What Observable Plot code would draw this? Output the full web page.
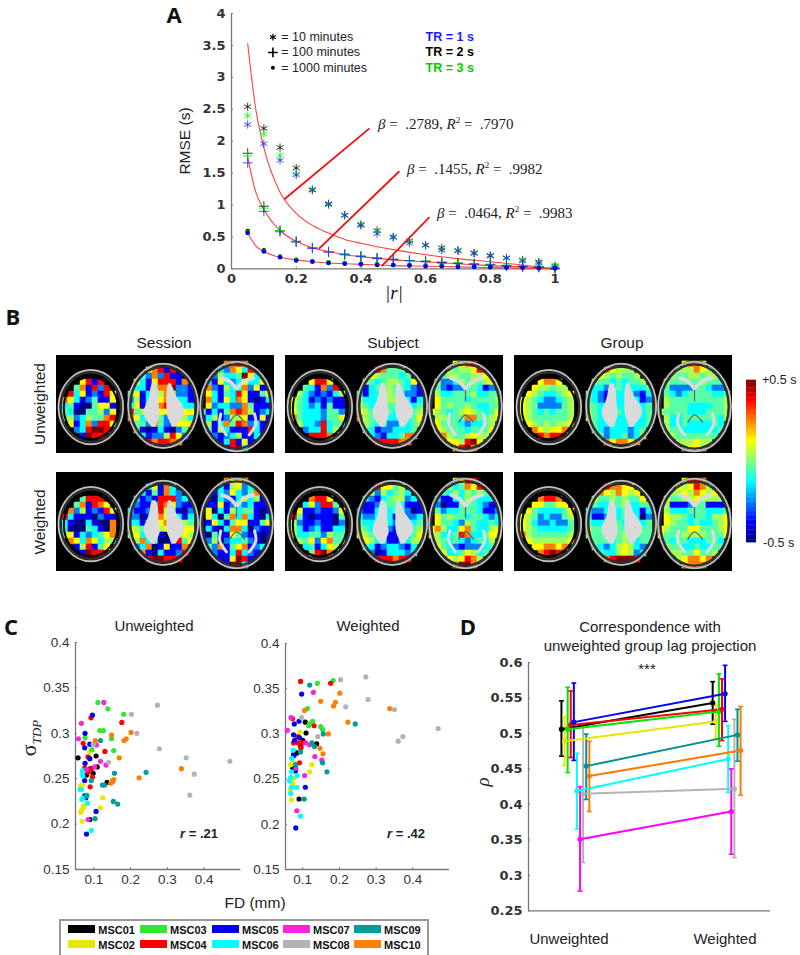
<!DOCTYPE html>
<html><head><meta charset="utf-8">
<script src="https://cdn.jsdelivr.net/npm/d3@7"></script>
<script src="https://cdn.jsdelivr.net/npm/@observablehq/plot@0.6"></script>
<style>
html,body{margin:0;padding:0;background:#fff}
#root{position:relative;width:800px;height:955px;overflow:hidden;font-family:"Liberation Sans",sans-serif;color:#222}
.lab{position:absolute;white-space:nowrap;line-height:1}
</style></head><body><div id="root"></div>
<script>
// ---------- Panel A data ----------
const absR=[.05,.1,.15,.2,.25,.3,.35,.4,.45,.5,.55,.6,.65,.7,.75,.8,.85,.9,.95,1];
const rmse10TR2=[2.54,2.2,1.9,1.58,1.24,1.02,.84,.69,.6,.5,.44,.37,.33,.29,.25,.21,.17,.14,.11,.04];
const rmse10TR3=[2.4,2.11,1.78,1.49,1.25,1,.84,.7,.59,.5,.43,.37,.3,.29,.24,.2,.17,.14,.1,.06];
const rmse10TR1=[2.26,1.96,1.7,1.47,1.23,1.01,.84,.68,.55,.49,.4,.37,.29,.28,.24,.2,.17,.12,.09,.02];
const rmse100TR2=[1.81,.98,.6,.43,.33,.27,.23,.2,.17,.15,.13,.12,.1,.09,.08,.07,.05,.04,.03,.01];
const rmse100TR3=[1.77,.95,.6,.43,.33,.27,.22,.19,.17,.15,.13,.12,.11,.09,.08,.07,.06,.05,.04,.03];
const rmse100TR1=[1.66,.9,.58,.42,.32,.26,.22,.19,.16,.14,.13,.11,.09,.08,.07,.06,.04,.03,.02,0];
const rmse1000TR2=[.59,.29,.19,.14,.12,.1,.09,.08,.07,.06,.06,.05,.05,.04,.04,.03,.03,.02,.02,.01];
const rmse1000TR3=[.57,.28,.19,.14,.12,.1,.09,.08,.07,.06,.06,.05,.05,.04,.04,.04,.03,.03,.03,.05];
const rmse1000TR1=[.56,.27,.18,.13,.11,.09,.08,.07,.06,.06,.05,.04,.04,.03,.03,.03,.02,.02,.01,.01];
const fitR=[.05,.075,.1,.15,.2,.25,.3,.35,.4,.5,.6,.7,.8,.9,1];
const fit10=[3.53,2.5,1.9,1.2,.87,.68,.56,.46,.4,.3,.22,.16,.11,.06,0];
const fit100=[1.75,1.2,.93,.6,.43,.33,.27,.22,.19,.14,.11,.08,.05,.03,0];
const fit1000=[.56,.36,.27,.18,.14,.11,.09,.08,.07,.05,.04,.03,.02,.01,0];
const leaders=[[.1635,1.09,.4265,2.2],[.27,.313,.519,1.528],[.464,.04,.612,.81]];
const fitBeta=[".2789",".1455",".0464"];
const fitR2=[".7970",".9982",".9983"];
const durationNotes=["= 10 minutes","= 100 minutes","= 1000 minutes"];
const trNotes=["TR = 1 s","TR = 2 s","TR = 3 s"];
const trColors=["#1a1aff","#000","#00cc00"];
const noteY=[3.63,3.39,3.15];

// ---------- Panel B data: digit 0-9 indexes lagLevels, one row per 18 units ----------
const lagLevels=[-.5,-.375,-.25,-.125,-.04,.04,.125,.25,.375,.5];
const sessionUnweighted=[
"...  ...  ...",
"...  .............  ...87787....",
"...  ....67818...  ..832763886.",
"...  ..54272811766  .72533496376",
"....6818...  ..63168881716  .31632363362",
"...4718288.  .633147792211  .72153372611",
"..83612186.  .461365752211  .63143861146",
".7631241167  .251346763311  .73163761013",
".3410046616  .361587876333  .62332274111",
".4300445268  .845466676667  413147875123",
".4523544782  .763474235532  135125561161",
".6613728864  .444274216664  .51374872311",
"..42389986.  .751013102476  .41531118314",
"...519883..  ..7312258627.  .72123511316",
"....799....  ...88788778..  ..413816113.",
"...  ......88.....  ....1893...."];
const subjectUnweighted=[
"...  ...  ...",
"...  ...  ....6678....",
"...  ....87444....  ..754556882.",
"...  ..6654443478.  .74554455655",
"....6886...  ..5434554367.  .52235454565",
"...4317284.  .413445443216  .42122443123",
"..53212135.  .413345432214  .53344453344",
".6431212116  .533345543135  .64444344445",
".5432314115  .543344443345  .64544543344",
".6433324426  .654344333456  654345654346",
".7433324463  .754343333466  .55444774456",
".8533283444  .654342233456  .64443233456",
"..82338355.  .543122333456  .65444344466",
"...78887...  ..7321334776.  .77544565566",
"....8898...  ...78888777..  ..766589676.",
"...  .....888......  ....6897...."];
const groupUnweighted=[
"...  ...  ...",
"...  ...  ....6776....",
"...  ....7655567..  ..655576556.",
"...  ..7654544567.  .65445545556",
"....6776...  ..5443434456.  .54444454445",
"...6554556.  .433234333345  .42222443224",
"..65433456.  .432123332134  .43234444334",
".6543223455  .432133333124  .54444444445",
".6542222456  .443333333344  .54443333445",
".6543434456  .543334343345  544443334445",
".6544444456  .543333333345  .53344444435",
".6654545566  .543343343345  .53343333435",
"..77656677.  .543233323455  .54433333345",
"...887887..  ..5423342356.  .55444444455",
"....8888...  ...77677677..  ..555565555.",
"...  ...  ....5665...."];
const sessionWeighted=[
"...  ...  ...",
"...  ...  ...87667....",
"...  ....3617358..  ..831562378.",
"...  ..7314173218.  .71326324725",
"....4888...  ..3121888231.  .10321353516",
"...4718766.  .421138762113  .11612323110",
"..72512186.  .311238541023  .60315344101",
".8311102116  .220137653133  .63047373103",
".3100310076  .331356776543  016314661146",
".3000431076  .654335675667  031037730211",
".5613234678  .563331024655  104116421101",
".8763763555  .457340018466  .25023342102",
"..81581466.  .723701611753  .42714671231",
"...519885..  ..8710311287.  .12113832134",
"....7997...  ...88998887..  ..311698131.",
"...  ...  ....1993...."];
const subjectWeighted=[
"...  ...  ...",
"...  ...  ....5688....",
"...  ....8664577..  ..753476885.",
"...  ..6525345378.  .64353545446",
"....7886...  ..3213455237.  .31133543334",
"...3628846.  .411244431114  .20114443213",
"..61121126.  .211343432013  .42334443112",
".8410111047  .322343122234  .64544344323",
".5211211026  .433343233344  .64432543343",
".5312311336  .543342123455  675336743356",
".6334425446  .654331113467  653348733466",
".8546267447  .565331123556  .54343234356",
"..83413656.  .743123321346  .64321222346",
"...848977..  ..7201333237.  .86334653447",
"....8898...  ...88887887..  ..865687567.",
"...  ...  ....7997...."];
const groupWeighted=[
"...  ...  ...",
"...  ...  ....6887....",
"...  ....8776677..  ..765687567.",
"...  ..8765765678.  .65565765666",
"....7887...  ..6445454467.  .64455655556",
"...6644667.  .543334533445  .51112441114",
"..64333346.  .322333433134  .53334443334",
".6542322456  .311233433024  .65543443556",
".6532232246  .433344333345  .65443433456",
".6543333346  .544444444445  654446644456",
".7544444456  .544444544445  644455554446",
".8655555567  .544434543445  .43443334435",
"..86677677.  .543235653235  .54433433445",
"...878988..  ..6433565235.  .65544644556",
"....8898...  ...77899987..  ..656776765.",
"...  ...  ....6777...."];
const sliceX=[103,320,540];
const sliceY=[158,155,153];
const skullY=[155,151,153];
const interiorRX=[78,100,101];
const interiorRY=[90,118,131];
const skullRX=[100,108,112];
const skullRY=[115,130,138];
const ventricleRows=[85,100,120,140,160,180,200,215];
const ventLeft1=[287,283,280,274,265,264,274,287];
const ventLeft2=[298,304,307,307,309,311,304,298];
const ventRight1=[336,333,331,331,331,333,341,346];
const ventRight2=[344,351,358,372,383,383,368,358];
const whiteTractX=[[497,520,540],[590,562,540],[493,490,510],[594,598,578]];
const whiteTractY=[[68,78,100],[68,78,100],[175,205,238],[175,205,238]];
const whiteTractW=[3.8,3.8,3,3];
const darkTractX=[[540,540],[520,540,564]];
const darkTractY=[[105,135],[200,178,200]];
const jetStops=["#00007f","#0000ff","#007fff","#00ffff","#7fff7f","#ffff00","#ff7f00","#ff0000","#7f0000"];

// ---------- Panel C data: [FD, sigma] ----------
const subjects=["MSC01","MSC02","MSC03","MSC04","MSC05","MSC06","MSC07","MSC08","MSC09","MSC10"];
const subjectColors=["#000000","#e8e800","#2fe82f","#ff0000","#0000f0","#00ffff","#ff22dd","#b3b3b3","#009b9b","#ff8000"];
const msc01U=[[.057,.273],[.106,.275],[.109,.263],[.098,.256],[.091,.261],[.08,.254],[.136,.246],[.075,.231],[.089,.205]];
const msc02U=[[.089,.28],[.069,.243],[.064,.242],[.124,.229],[.118,.218],[.073,.22],[.071,.218],[.066,.215],[.064,.213],[.068,.203]];
const msc03U=[[.111,.334],[.138,.327],[.181,.321],[.116,.303],[.126,.303],[.076,.295],[.148,.294],[.095,.282],[.154,.281]];
const msc04U=[[.092,.317],[.176,.312],[.071,.289],[.13,.28],[.084,.274],[.075,.262],[.093,.261],[.084,.257],[.096,.252],[.09,.241]];
const msc05U=[[.096,.32],[.076,.3],[.089,.288],[.075,.284],[.089,.272],[.076,.267],[.075,.248],[.078,.229],[.106,.214],[.08,.189]];
const msc06U=[[.069,.259],[.068,.255],[.07,.253],[.062,.238],[.066,.238],[.071,.229],[.067,.227],[.083,.223],[.093,.193],[.082,.232]];
const msc07U=[[.127,.334],[.066,.311],[.058,.294],[.107,.287],[.118,.269],[.133,.265],[.102,.263],[.08,.26],[.151,.247],[.084,.205]];
const msc08U=[[.202,.321],[.273,.331],[.217,.3],[.098,.288],[.278,.283],[.14,.268],[.351,.273],[.47,.269],[.373,.255],[.361,.232]];
const msc09U=[[.118,.292],[.242,.257],[.156,.256],[.093,.248],[.129,.243],[.123,.243],[.08,.231],[.153,.225],[.165,.222],[.103,.206]];
const msc10U=[[.104,.292],[.201,.301],[.148,.298],[.188,.294],[.182,.292],[.169,.273],[.338,.261],[.223,.251],[.154,.249],[.151,.248],[.146,.245]];
const msc01W=[[.107,.313],[.109,.301],[.1,.293],[.095,.286],[.084,.279],[.075,.277],[.138,.289],[.073,.262],[.09,.228]];
const msc02W=[[.092,.302],[.072,.268],[.067,.266],[.125,.266],[.119,.258],[.076,.251],[.073,.245],[.066,.238],[.069,.227]];
const msc03W=[[.113,.328],[.14,.356],[.183,.359],[.127,.314],[.116,.309],[.118,.311],[.149,.308],[.154,.305]];
const msc04W=[[.094,.358],[.176,.356],[.072,.317],[.131,.309],[.086,.297],[.075,.29],[.088,.29],[.097,.29],[.095,.284],[.091,.268]];
const msc05W=[[.097,.344],[.09,.314],[.077,.311],[.075,.299],[.091,.296],[.078,.293],[.076,.276],[.08,.259],[.107,.241],[.081,.196]];
const msc06W=[[.074,.282],[.07,.273],[.069,.258],[.084,.254],[.067,.252],[.064,.248],[.069,.241],[.084,.241],[.067,.234],[.094,.209]];
const msc07W=[[.129,.346],[.068,.318],[.058,.304],[.108,.29],[.119,.288],[.133,.275],[.152,.271],[.081,.262],[.105,.254],[.084,.215]];
const msc08W=[[.203,.36],[.272,.363],[.217,.33],[.097,.318],[.278,.338],[.141,.297],[.35,.327],[.469,.306],[.373,.297],[.36,.292]];
const msc09W=[[.119,.354],[.243,.311],[.156,.3],[.125,.29],[.132,.286],[.094,.28],[.081,.266],[.154,.268],[.166,.258],[.104,.228]];
const msc10W=[[.105,.326],[.201,.345],[.149,.336],[.189,.335],[.184,.331],[.223,.313],[.337,.328],[.17,.3],[.147,.284],[.155,.278]];
const setsU=[msc01U,msc02U,msc03U,msc04U,msc05U,msc06U,msc07U,msc08U,msc09U,msc10U];
const setsW=[msc01W,msc02W,msc03W,msc04W,msc05W,msc06W,msc07W,msc08W,msc09W,msc10W];

// ---------- Panel D data ----------
const rhoU=[.506,.489,.506,.512,.516,.419,.351,.415,.454,.44];
const rhoUHigh=[.546,.524,.565,.56,.571,.472,.425,.512,.499,.489];
const rhoULow=[.468,.455,.445,.466,.462,.365,.278,.318,.407,.39];
const rhoW=[.543,.517,.531,.534,.556,.464,.39,.422,.498,.476];
const rhoWHigh=[.573,.541,.584,.577,.596,.511,.45,.52,.534,.538];
const rhoWLow=[.513,.493,.482,.49,.517,.417,.33,.325,.461,.413];

// ---------- helpers ----------
const root=document.getElementById("root");
const SANS='"Liberation Sans",sans-serif', BOLD='"DejaVu Sans",sans-serif';
function label(html,x,y,css={}){
  const d=document.createElement("div");d.className="lab";d.innerHTML=html;
  const a=css.anchor||"c",rot=css.rotate||0;
  const tx=a==="c"?"-50%":"0";
  d.style.left=x+"px";d.style.top=y+"px";
  d.style.transform=`translate(${tx},-50%)`+(rot?` rotate(${rot}deg)`:"");
  for(const k in css) if(k!=="anchor"&&k!=="rotate") d.style[k]=css[k];
  root.appendChild(d);return d;
}
function place(x0,x1,y0,y1,xDomain,yDomain,marks,extra={}){
  const m=extra.margin??45;
  const hide=extra.hideAxes?{axis:null}:{};
  const p=Plot.plot({width:x1-x0+2*m,height:y1-y0+2*m,marginLeft:m,marginRight:m,marginTop:m,marginBottom:m,
    x:{domain:xDomain,...hide},y:{domain:yDomain,...hide},color:extra.color,marks,
    style:{position:"absolute",left:(x0-m)+"px",top:(y0-m)+"px",background:"transparent",overflow:"visible",...(extra.style||{})}});
  root.appendChild(p);return p;
}
const fmt=d3.format("~g");
function axes(xTicks,yTicks,font,x0,y0){
  return [
    Plot.ruleX([x0],{stroke:"#777",strokeWidth:1.3}),
    Plot.ruleY([y0],{stroke:"#777",strokeWidth:1.3}),
    Plot.axisX({ticks:xTicks,tickFormat:fmt,label:null,tickSize:-2,tickPadding:7,stroke:"#777",...font}),
    Plot.axisY({ticks:yTicks,tickFormat:fmt,label:null,tickSize:-2,tickPadding:8,stroke:"#777",...font})
  ];
}
const boldTicks={fontSize:13,fontWeight:"bold",fontFamily:BOLD,fill:"#333"};
const plainTicks={fontSize:13.5,fontFamily:SANS,fill:"#333"};

// ---------- Panel A ----------
const series=(ys)=>absR.map((r,i)=>({r,y:ys[i]}));
const fitSeries=(ys)=>fitR.map((r,i)=>({r,y:ys[i]}));
const trRuns=[["#000",rmse10TR2,rmse100TR2,rmse1000TR2],["#00ff00",rmse10TR3,rmse100TR3,rmse1000TR3],["#2222ff",rmse10TR1,rmse100TR1,rmse1000TR1]];
const aMarks=[...axes([0,.2,.4,.6,.8,1],[0,.5,1,1.5,2,2.5,3,3.5,4],boldTicks,0,0)];
for(const ys of [fit10,fit100,fit1000])
  aMarks.push(Plot.line(fitSeries(ys),{x:"r",y:"y",stroke:"#ff4040",strokeWidth:1.1,curve:"monotone-x"}));
for(const [c,a,b,d] of trRuns){
  aMarks.push(Plot.dot(series(a),{x:"r",y:"y",symbol:"asterisk",r:3.8,stroke:c,strokeWidth:.8}));
  aMarks.push(Plot.dot(series(b),{x:"r",y:"y",symbol:"plus",r:3.3,stroke:c,strokeWidth:.8}));
  aMarks.push(Plot.dot(series(d),{x:"r",y:"y",symbol:"circle",r:2.3,fill:c==="#2222ff"?"#0000ee":c,stroke:"none"}));
}
aMarks.push(Plot.link(leaders,{x1:d=>d[0],y1:d=>d[1],x2:d=>d[2],y2:d=>d[3],stroke:"#ee1111",strokeWidth:1.8}));
aMarks.push(Plot.dot([0],{x:()=>.128,y:()=>noteY[0],symbol:"asterisk",r:3.2,stroke:"#000",strokeWidth:1.2}));
aMarks.push(Plot.dot([0],{x:()=>.128,y:()=>noteY[1],symbol:"plus",r:3.2,stroke:"#000",strokeWidth:1.6}));
aMarks.push(Plot.dot([0],{x:()=>.128,y:()=>noteY[2],symbol:"circle",r:2,fill:"#000",stroke:"none"}));
aMarks.push(Plot.text(durationNotes,{x:()=>.154,y:(d,i)=>noteY[i],text:d=>d,textAnchor:"start",fontSize:12.5,fontFamily:SANS,fill:"#222"}));
aMarks.push(Plot.text(trNotes,{x:()=>.6,y:(d,i)=>noteY[i],text:d=>d,textAnchor:"start",fontSize:12.5,fontWeight:"bold",fontFamily:SANS,fill:(d,i)=>trColors[i]}));
place(230.5,554,12.7,268,[0,1],[0,4],aMarks);
label("A",174,14,{fontSize:"22px",fontWeight:"bold",fontFamily:'"Open Sans",sans-serif',color:"#111"});
label("RMSE (s)",185,141,{fontSize:"15.5px",rotate:-90});
label("<i>|r|</i>",394,292,{fontSize:"19px",fontFamily:'"Liberation Serif",serif',color:"#111"});
const noteLeft=[378,407,437],noteTop=[124,169,213];
fitBeta.forEach((b,i)=>label(`<i>β</i> = &nbsp;${b}, <i>R</i><sup style="font-size:9px;line-height:0">2</sup> = &nbsp;${fitR2[i]}`,noteLeft[i],noteTop[i],{anchor:"l",fontSize:"15px",fontFamily:'"Liberation Serif",serif',color:"#222"}));

// ---------- Panel B ----------
const segStart=[0,11,24];
function gridCells(rows){
  const cells=[];
  rows.forEach((row,r)=>{
    row.split(/\s+/).forEach((seg,s)=>{
      [...seg].forEach((ch,k)=>{
        if(ch==="."||k>=[11,13,12][s]) return;
        const c=segStart[s]+k;
        const dx=(18*c+9-sliceX[s])/(interiorRX[s]+3), dy=(18*r+9-sliceY[s])/(interiorRY[s]+3);
        if(dx*dx+dy*dy>1.0) return;
        cells.push({c,r,v:lagLevels[+ch]});
      });
    });
  });
  return cells;
}
function ellipseSymbol(aspect){
  const K=.5523;
  return {draw(ctx,size){
    const a=Math.sqrt(size/Math.PI),b=a*aspect;
    ctx.moveTo(a,0);
    ctx.bezierCurveTo(a,K*b,K*a,b,0,b);
    ctx.bezierCurveTo(-K*a,b,-a,K*b,-a,0);
    ctx.bezierCurveTo(-a,-K*b,-K*a,-b,0,-b);
    ctx.bezierCurveTo(K*a,-b,a,-K*b,a,0);
    ctx.closePath();
  }};
}
const jetScale={type:"linear",domain:d3.range(9).map(i=>-.5+i/8),range:jetStops};
function brainPanel(rows,left,top,h){
  const marks=[Plot.frame({fill:"#000",stroke:"none"})];
  marks.push(Plot.rect(gridCells(rows),{x1:d=>18*d.c,x2:d=>18*d.c+18,y1:d=>18*d.r,y2:d=>18*d.r+18,fill:"v",inset:-.3}));
  for(const [a,b] of [[ventLeft1,ventLeft2],[ventRight1,ventRight2]])
    marks.push(Plot.areaX(ventricleRows.map((y,i)=>({y,a:a[i],b:b[i]})),{y:"y",x1:"a",x2:"b",fill:"#dadada",curve:"catmull-rom"}));
  whiteTractX.forEach((xs,k)=>marks.push(Plot.line(xs.map((x,i)=>({x,y:whiteTractY[k][i]})),{x:"x",y:"y",stroke:"#dcdcdc",strokeWidth:whiteTractW[k],curve:"catmull-rom",strokeLinecap:"round"})));
  darkTractX.forEach((xs,k)=>marks.push(Plot.line(xs.map((x,i)=>({x,y:darkTractY[k][i]})),{x:"x",y:"y",stroke:"#666",strokeWidth:1.3,curve:"catmull-rom"})));
  [0,1,2].forEach(s=>{
    const asp=interiorRY[s]/interiorRX[s], skAsp=skullRY[s]/skullRX[s];
    marks.push(Plot.dot([0],{x:()=>sliceX[s],y:()=>sliceY[s],symbol:ellipseSymbol(asp),r:interiorRX[s]/3+1,fill:"none",stroke:"#000",strokeWidth:2}));
    marks.push(Plot.dot([0],{x:()=>sliceX[s],y:()=>skullY[s],symbol:ellipseSymbol(skAsp),r:skullRX[s]/3-3.2,fill:"none",stroke:"#2e2e2e",strokeWidth:2.2}));
    marks.push(Plot.dot([0],{x:()=>sliceX[s],y:()=>skullY[s],symbol:ellipseSymbol(skAsp),r:skullRX[s]/3-1,fill:"none",stroke:"#999",strokeWidth:2}));
    marks.push(Plot.dot([0],{x:()=>sliceX[s],y:()=>skullY[s],symbol:ellipseSymbol(skAsp),r:skullRX[s]/3-1,fill:"none",stroke:"#e4e4e4",strokeWidth:.7}));
  });
  const p=Plot.plot({width:218,height:h,margin:0,
    x:{domain:[0,654],axis:null},y:{domain:[0,h*3],range:[0,h],axis:null},color:jetScale,marks,
    style:{position:"absolute",left:left+"px",top:top+"px",background:"#000",filter:"blur(.55px)",display:"block"}});
  root.appendChild(p);
}
brainPanel(sessionUnweighted,56,355,98);
brainPanel(subjectUnweighted,285,355,98);
brainPanel(groupUnweighted,514,355,98);
brainPanel(sessionWeighted,56,472,99);
brainPanel(subjectWeighted,285,472,99);
brainPanel(groupWeighted,514,472,99);
label("B",13,316,{fontSize:"22px",fontWeight:"bold",fontFamily:'"Open Sans",sans-serif',color:"#111"});
label("Session",164,343,{fontSize:"15.5px"});
label("Subject",393,343,{fontSize:"15.5px"});
label("Group",622,343,{fontSize:"15.5px"});
label("Unweighted",40,404,{fontSize:"15.5px",rotate:-90});
label("Weighted",40,522,{fontSize:"15.5px",rotate:-90});
const barSteps=d3.range(64).map(i=>-.5+i/64);
place(745.7,755.7,380.3,542.7,[0,1],[-.5,.5],[
  Plot.rect(barSteps,{x1:()=>0,x2:()=>1,y1:d=>d,y2:d=>d+1/64+.002,fill:d=>d+1/128})
],{color:jetScale,margin:0,hideAxes:true});
label("+0.5 s",762,380,{fontSize:"12.5px",anchor:"l"});
label("-0.5 s",763,543,{fontSize:"12.5px",anchor:"l"});

// ---------- Panel C ----------
function scatter(sets,x0,x1,y0,y1,dom){
  const rows=sets.flatMap((pts,i)=>pts.map(p=>({fd:p[0],s:p[1],subject:subjects[i]})));
  place(x0,x1,y0,y1,dom,[.15,.4],[
    ...axes([.1,.2,.3,.4],[.15,.2,.25,.3,.35,.4],plainTicks,dom[0],.15),
    Plot.dot(rows,{x:"fd",y:"s",fill:"subject",r:2.6,stroke:"none"})
  ],{color:{domain:subjects,range:subjectColors}});
}
scatter(setsU,75.3,240.7,641.7,868.7,[.05,.5]);
scatter(setsW,285.3,449.3,642.7,868.7,[.053,.5]);
label("C",11,626,{fontSize:"22px",fontWeight:"bold",fontFamily:'"Open Sans",sans-serif',color:"#111"});
label("Unweighted",154,625,{fontSize:"15px"});
label("Weighted",368,625,{fontSize:"15px"});
label("σ<sub style='font-size:13px;font-style:italic;line-height:0'>TDP</sub>",29,738,{fontSize:"22px",rotate:-90,fontFamily:'"Liberation Serif",serif'});
label("FD (mm)",255,903,{fontSize:"15.5px"});
label("<i>r</i> = .21",199,833,{fontSize:"13px",fontWeight:"bold"});
label("<i>r</i> = .42",406,833,{fontSize:"13px",fontWeight:"bold"});
const box=document.createElement("div");
box.style.cssText="position:absolute;left:59px;top:919px;width:366px;height:34px;border:2px solid #999";
root.appendChild(box);
const legendX=[68.3,140,212,283,354];
subjects.forEach((s,i)=>{
  const col=Math.floor(i/2),row=i%2,x=legendX[col],y=row?940:925;
  const sw=document.createElement("div");
  sw.style.cssText=`position:absolute;left:${x}px;top:${y}px;width:27px;height:8px;background:${subjectColors[i]}`;
  root.appendChild(sw);
  label(s,x+30,y+4.5,{anchor:"l",fontSize:"11px",fontWeight:"bold",color:"#111",fontFamily:SANS});
});

// ---------- Panel D ----------
const dodge=i=>(i-4.5)*.0205;
const dRows=subjects.flatMap((subject,i)=>[
  {subject,x:1+dodge(i),y:rhoU[i],hi:rhoUHigh[i],lo:rhoULow[i]},
  {subject,x:2+dodge(i),y:rhoW[i],hi:rhoWHigh[i],lo:rhoWLow[i]}]);
const capW=.016;
place(528,770,662.3,910.7,[.69,2.29],[.25,.6],[
  ...axes([],[.25,.3,.35,.4,.45,.5,.55,.6],boldTicks,.69,.25),
  Plot.ruleX(dRows,{x:"x",y1:"lo",y2:"hi",stroke:"subject",strokeWidth:2}),
  Plot.link(dRows,{x1:d=>d.x-capW,x2:d=>d.x+capW,y1:"hi",y2:"hi",stroke:"subject",strokeWidth:1.6}),
  Plot.link(dRows,{x1:d=>d.x-capW,x2:d=>d.x+capW,y1:"lo",y2:"lo",stroke:"subject",strokeWidth:1.6}),
  Plot.line(dRows,{x:"x",y:"y",z:"subject",stroke:"subject",strokeWidth:2}),
  Plot.dot(dRows,{x:"x",y:"y",fill:"subject",r:2.6,stroke:"none"})
],{color:{domain:subjects,range:["#000000","#e6e600","#00e600","#ff0000","#0000ff","#00ffff","#ff00ff","#b3b3b3","#009090","#ff7a00"]}});
label("D",468,626,{fontSize:"22px",fontWeight:"bold",fontFamily:'"Open Sans",sans-serif',color:"#111"});
label("Correspondence with",650,626,{fontSize:"15px"});
label("unweighted group lag projection",650,645,{fontSize:"15px"});
label("***",647,668,{fontSize:"15px"});
label("Unweighted",569,938,{fontSize:"15px"});
label("Weighted",725,938,{fontSize:"15px"});
label("<i>ρ</i>",482,782,{fontSize:"19px",rotate:-90,fontFamily:'"Liberation Serif",serif'});
</script></body></html>
